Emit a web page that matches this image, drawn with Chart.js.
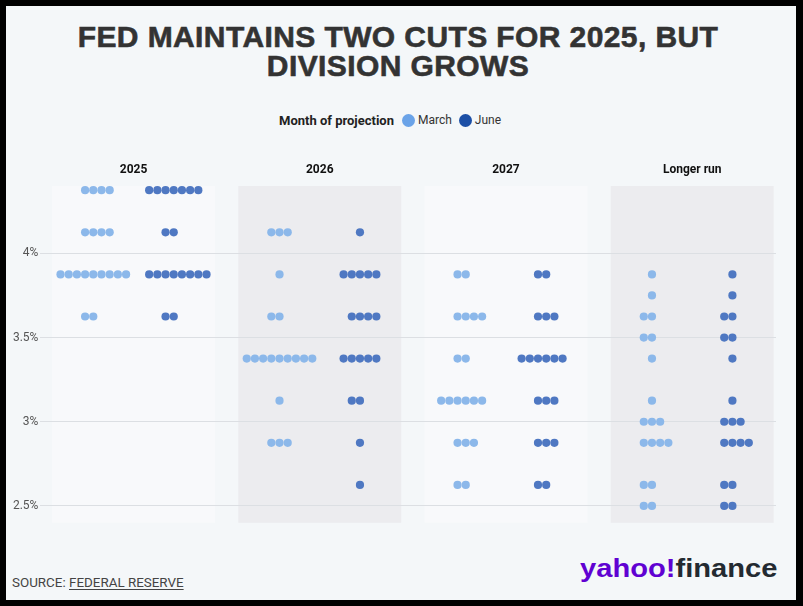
<!DOCTYPE html>
<html>
<head>
<meta charset="utf-8">
<script src="https://cdn.jsdelivr.net/npm/chart.js@4.4.0/dist/chart.umd.min.js"></script>
<style>
  html, body { margin: 0; padding: 0; background: #000; }
  #frame { position: absolute; left: 6px; top: 6px; width: 790px; height: 594px; background: #f4f7f9; overflow: hidden; }
  #title { position: absolute; left: -3px; top: 16px; width: 790px; text-align: center; font-family: "Liberation Sans", Arial, sans-serif; font-weight: 700; font-size: 30px; letter-spacing: 0.4px; line-height: 29px; color: #333; -webkit-text-stroke: 0.6px #333; }
  #legend { position: absolute; left: 273px; top: 106px; font-family: Roboto, sans-serif; font-size: 12px; color: #333; display: flex; align-items: center; height: 16px; }
  #legend b { font-weight: 700; font-size: 13px; margin-right: 8px; color: #222; }
  .sw { width: 13px; height: 13px; border-radius: 50%; display: inline-block; margin-right: 3px; }
  #legend span.lab { margin-right: 7px; }
  #chartBox { position: absolute; left: 0; top: 134px; width: 784px; height: 392px; }
  #source { position: absolute; left: 6px; top: 569px; font-family: Roboto, sans-serif; font-size: 13.4px; color: #444; }
  #source u { text-decoration: underline; text-underline-offset: 2px; }
  #logo { position: absolute; left: 574px; top: 547px; font-family: "Liberation Sans", Arial, sans-serif; font-weight: 700; font-size: 26px; transform: scaleX(1.12); transform-origin: left center; }
</style>
</head>
<body>
<div id="frame">
  <div id="title">FED MAINTAINS TWO CUTS FOR 2025, BUT<br>DIVISION GROWS</div>
  <div id="legend">
    <b>Month of projection</b>
    <span class="sw" style="background:#6aa3e8"></span><span class="lab">March</span>
    <span class="sw" style="background:#1c4fa6"></span><span class="lab">June</span>
  </div>
  <div id="chartBox"><canvas id="dots"></canvas></div>
  <div id="source">SOURCE: <u>FEDERAL RESERVE</u></div>
  <div id="logo"><span style="color:#6001d2">yahoo!</span><span style="color:#232a31">finance</span></div>
</div>
<script>
// Panels and projected rate levels (midpoints), dots per level
const panels = ['2025', '2026', '2027', 'Longer run'];
const yTicks = [2.5, 3, 3.5, 4];

const rates2025 = [4.375, 4.125, 3.875, 3.625];
const march2025 = [4, 4, 9, 2];
const june2025 = [7, 2, 8, 2];

const rates2026 = [4.125, 3.875, 3.625, 3.375, 3.125, 2.875, 2.625];
const march2026 = [3, 1, 2, 9, 1, 3, 0];
const june2026 = [1, 5, 4, 5, 2, 1, 1];

const rates2027 = [3.875, 3.625, 3.375, 3.125, 2.875, 2.625];
const march2027 = [2, 4, 2, 6, 3, 2];
const june2027 = [2, 3, 6, 3, 3, 2];

const ratesLonger = [3.875, 3.75, 3.625, 3.5, 3.375, 3.125, 3.0, 2.875, 2.625, 2.5];
const marchLonger = [1, 1, 2, 2, 1, 1, 3, 4, 2, 2];
const juneLonger = [1, 1, 2, 2, 1, 1, 3, 4, 2, 2];

const rateSets = [rates2025, rates2026, rates2027, ratesLonger];
const marchSets = [march2025, march2026, march2027, marchLonger];
const juneSets = [june2025, june2026, june2027, juneLonger];

const SIDE = 0.216;   // offset of each month's column inside a panel (x units)
const STEP = 0.044;   // spacing between dots in a row

// slot of dot i in a row of n dots
function slot(i, n) {
  if (n % 2 === 1) return i - (n - 1) / 2;
  if (n % 4 === 2) return i - n / 2;
  return i - (n / 2 - 1);
}

function buildPoints(countSets, side) {
  const pts = [];
  countSets.forEach((counts, k) => {
    counts.forEach((n, r) => {
      for (let i = 0; i < n; i++) {
        pts.push({ x: k + side + slot(i, n) * STEP, y: rateSets[k][r] });
      }
    });
  });
  return pts;
}

// panel backgrounds behind the grid
const panelBg = {
  id: 'panelBg',
  beforeDraw(chart) {
    const { ctx, chartArea, scales } = chart;
    ctx.save();
    panels.forEach((p, k) => {
      const l = scales.x.getPixelForValue(k - 0.4375);
      const r = scales.x.getPixelForValue(k + 0.4375);
      ctx.fillStyle = k % 2 ? '#ececef' : '#f8f9fb';
      ctx.fillRect(l, chartArea.top, r - l, chartArea.bottom - chartArea.top);
    });
    ctx.restore();
  }
};

new Chart(document.getElementById('dots'), {
  type: 'scatter',
  data: {
    datasets: [
      { label: 'March', data: buildPoints(marchSets, -SIDE), backgroundColor: '#8cb8ea', pointRadius: 4.1, pointHoverRadius: 4.1, borderWidth: 0 },
      { label: 'June', data: buildPoints(juneSets, SIDE), backgroundColor: '#4f78c2', pointRadius: 4.1, pointHoverRadius: 4.1, borderWidth: 0 }
    ]
  },
  options: {
    responsive: true,
    maintainAspectRatio: false,
    animation: false,
    layout: { padding: { left: 0, right: 14, top: 0, bottom: 6 } },
    plugins: { legend: { display: false }, tooltip: { enabled: false } },
    scales: {
      x: {
        type: 'linear', position: 'top', min: -0.5, max: 3.45,
        afterBuildTicks: s => { s.ticks = panels.map((p, k) => ({ value: k })); },
        afterFit: s => { s.height = 46; },
        ticks: { callback: v => panels[v], color: '#111', font: { family: 'Roboto', size: 12, weight: 'bold' }, padding: 1 },
        grid: { display: false }, border: { display: false }
      },
      y: {
        min: 2.4, max: 4.4,
        afterBuildTicks: s => { s.ticks = yTicks.map(v => ({ value: v })); },
        afterFit: s => { s.width = 34.4; },
        ticks: { callback: v => v + '%', color: '#555', font: { family: 'Roboto', size: 12 }, padding: 2 },
        grid: { color: '#dcdfe3', lineWidth: 1, drawTicks: false }, border: { display: false }
      }
    }
  },
  plugins: [panelBg]
});
</script>
</body>
</html>
